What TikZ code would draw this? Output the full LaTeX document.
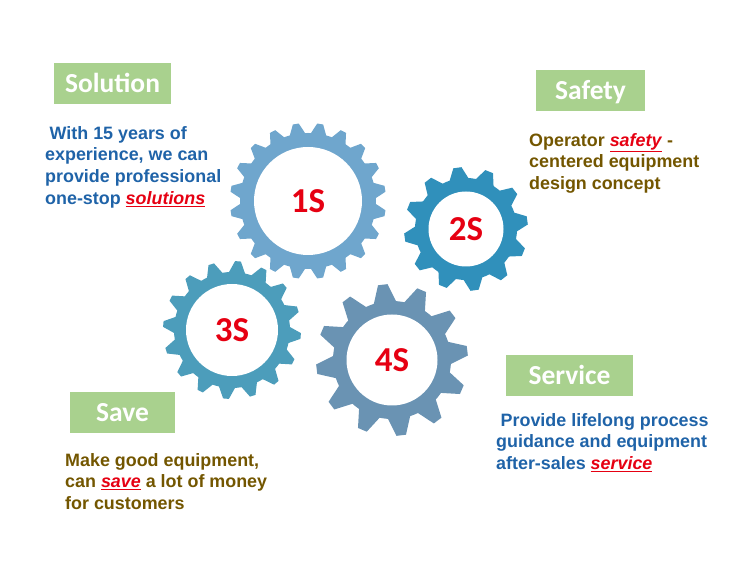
\documentclass[tikz,border=0pt]{standalone}
\usepackage{fontspec}
\setmainfont{Liberation Sans}
\newfontfamily\capfont{Carlito}
\definecolor{gearone}{HTML}{6FA6CD}
\definecolor{geartwo}{HTML}{3090BB}
\definecolor{gearthree}{HTML}{4C9DBB}
\definecolor{gearfour}{HTML}{6A93B3}
\definecolor{capgreen}{HTML}{A9D18E}
\definecolor{txtblue}{HTML}{1F63A8}
\definecolor{txtbrown}{HTML}{735600}
\definecolor{txtred}{HTML}{E60012}
\newcommand{\hotword}[1]{\textcolor{txtred}{\underline{\textit{#1}}}}
\tikzset{
  capbox/.style={fill=capgreen,text=white,inner sep=0pt,text height=19pt,text depth=0pt,font=\capfont\bfseries\fontsize{27.5}{27.5}\selectfont},
  hub/.style={circle,fill=white,inner sep=0pt,text=txtred,font=\capfont\bfseries\fontsize{35}{35}\selectfont},
  bodytxt/.style={anchor=north west,inner sep=0pt,align=left,font=\bfseries\fontsize{17.9}{21.8}\selectfont},
}
\begin{document}
\begin{tikzpicture}[x=1pt,y=1pt]
\useasboundingbox (0,0) rectangle (750,570);
% gears: x/y/hole/root/tip/teeth/phase/base/top/colour/name/label
\foreach \gx/\gy/\hole/\groot/\gtip/\nteeth/\phase/\gbase/\gtop/\gcol/\gname/\glabel in {
  308/369/54/68/78/20/9/7/2.2/gearone/one/1S,
  466/341/37.5/51/62/12/8/11.5/3.8/geartwo/two/2S,
  232/240/46/58/69/16/-5/8.6/2.4/gearthree/three/3S,
  392/210/45.5/59/76/12/7/11.5/3.6/gearfour/four/4S}
{
  \fill[\gcol] (\gx,\gy) circle (\groot);
  \pgfmathsetmacro{\pitch}{360/\nteeth}
  \foreach \k in {1,...,\nteeth}{
    \pgfmathsetmacro{\ang}{\phase+\k*\pitch}
    \fill[\gcol,shift={(\gx,\gy)}] (\ang-\gbase:\groot-1) -- (\ang-\gtop:\gtip) -- (\ang+\gtop:\gtip) -- (\ang+\gbase:\groot-1) -- cycle;
  }
  \node[hub,minimum size=2*\hole*1pt] (\gname) at (\gx,\gy) {\glabel};
}
\node[capbox,minimum width=117pt,minimum height=41pt] (solution) at (112.5,486.5) {Solution};
\node[capbox,minimum width=109pt,minimum height=41pt] (safety) at (590.5,479.5) {Safety};
\node[capbox,minimum width=127pt,minimum height=41pt] (service) at (569.5,194.5) {Service};
\node[capbox,minimum width=105pt,minimum height=41pt] (save) at (122.5,157.5) {Save};
\node[bodytxt,text=txtblue] (soltxt) at (45,444) {\hspace*{4.5pt}With 15 years of\\experience, we can\\provide professional\\one-stop \hotword{solutions}};
\node[bodytxt,text=txtbrown] (saftxt) at (529,437) {Operator \hotword{safety} -\\centered equipment\\design concept};
\node[bodytxt,text=txtblue] (sertxt) at (496,157) {\hspace*{4.5pt}Provide lifelong process\\guidance and equipment\\after-sales \hotword{service}};
\node[bodytxt,text=txtbrown] (savtxt) at (65,117) {Make good equipment,\\can \hotword{save} a lot of money\\for customers};
\end{tikzpicture}
\end{document}
